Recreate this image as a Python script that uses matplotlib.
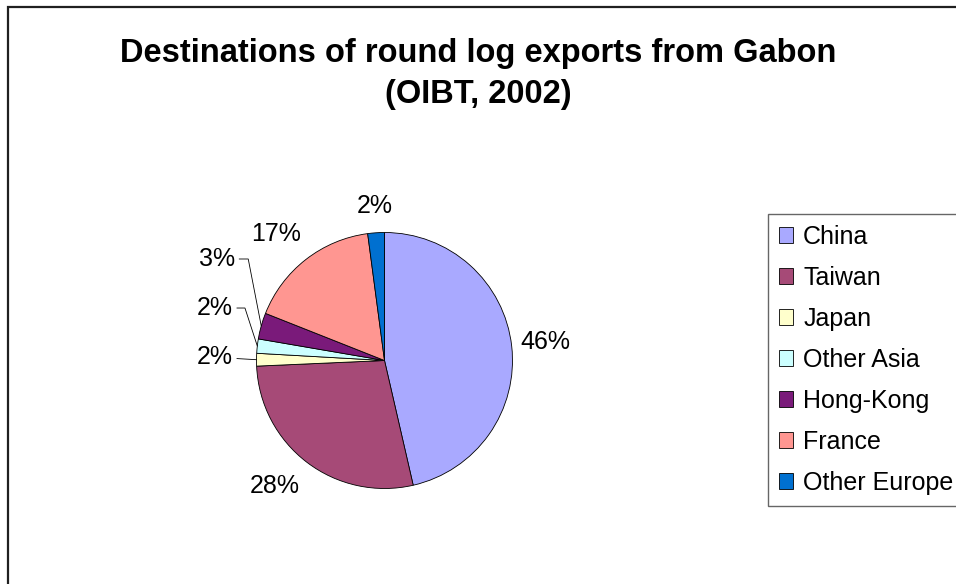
import matplotlib
matplotlib.use('Agg')
import matplotlib.pyplot as plt
import numpy as np
from matplotlib.patches import Rectangle

# data
countries = ['China', 'Taiwan', 'Japan', 'Other Asia', 'Hong-Kong', 'France', 'Other Europe']
shares = [46.4, 27.9, 1.6, 1.8, 3.3, 16.9, 2.1]
colors = ['#A9A9FF', '#A64A77', '#FFFFCC', '#CCFFFF', '#7A1A7A', '#FF9691', '#0070D0']

title = 'Destinations of round log exports from Gabon\n(OIBT, 2002)'

plt.rcParams['font.family'] = ['Liberation Sans', 'DejaVu Sans']

W, H = 956, 584
fig = plt.figure(figsize=(W / 100, H / 100), dpi=100)

# outer chart frame
fig.patches.append(Rectangle((8 / W, -0.1), 2, 1.1 - 7 / H, transform=fig.transFigure,
                             fill=False, lw=1.6, ec='#202020'))

fig.text(0.5, 1 - 74 / H, title, ha='center', va='center', fontsize=23.5,
         fontweight='bold', linespacing=1.45)

# pie axes (center ~ (384.5, 360.5) px, radius 128 px)
cx, cy, r = 384.5, 360.5, 128
ax = fig.add_axes([(cx - r) / W, (H - cy - r) / H, 2 * r / W, 2 * r / H])
wedges, _ = ax.pie(shares, colors=colors, startangle=90, counterclock=False, radius=1,
                   wedgeprops=dict(edgecolor='black', linewidth=0.6))
ax.set_xlim(-1, 1)
ax.set_ylim(-1, 1)
ax.set_aspect('equal')
ax.axis('off')

# label layout: radial distance for big slices, leader-line layout for small ones
label_dist = {0: (1.265, 0), 1: (1.30, -4), 5: (1.30, 2.5), 6: (1.21, 0)}
leader = {2: (-1.186, 0.025, None), 3: (-1.186, 0.410, 108), 4: (-1.168, 0.793, 101)}

for i, w in enumerate(wedges):
    pct = '%d%%' % round(shares[i])
    mid = np.deg2rad((w.theta1 + w.theta2) / 2)
    if i in label_dist:
        d, dang = label_dist[i]
        a = mid + np.deg2rad(dang)
        ax.text(d * np.cos(a), d * np.sin(a), pct, ha='center', va='center', fontsize=18)
    else:
        tx, ty, angB = leader[i]
        px, py = np.cos(mid), np.sin(mid)
        if angB is None:
            cs = 'arc3,rad=0'
        else:
            cs = 'angle,angleA=0,angleB=%d,rad=0' % angB
        ax.annotate(pct, xy=(px, py), xytext=(tx, ty), ha='right', va='center', fontsize=18,
                    arrowprops=dict(arrowstyle='-', color='black', lw=0.6,
                                    shrinkA=1, shrinkB=0, connectionstyle=cs))

leg = fig.legend(wedges, countries, loc='upper left', bbox_to_anchor=(768 / W, 1 - 213.5 / H),
                 borderaxespad=0, fontsize=18, frameon=True, fancybox=False,
                 edgecolor='#404040', handlelength=0.56, handleheight=0.56,
                 handletextpad=0.4, borderpad=0.45, labelspacing=0.68)
leg.get_frame().set_linewidth(1.0)

fig.savefig('out.png', dpi=100)
